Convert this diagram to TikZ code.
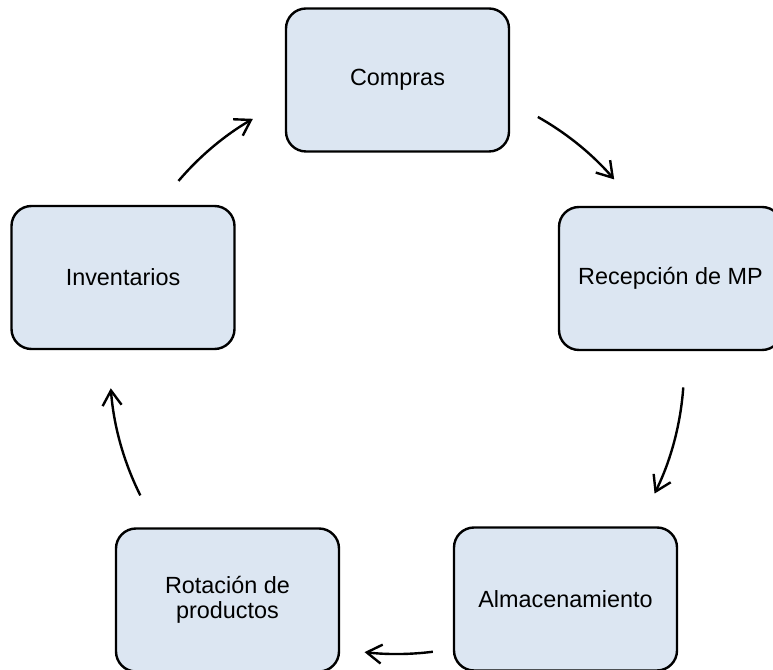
\documentclass[tikz,border=0pt]{standalone}
\usepackage{fontspec}
\setmainfont{Liberation Sans}
\usetikzlibrary{calc,arrows.meta}
\definecolor{stagefill}{HTML}{DCE6F2}
% Curved arrow on the cycle circle between two stages;
% #3 and #4 are the fractions of the angular gap where it starts and ends.
\newcommand\cyclink[4]{%
  \draw[cyc] let \p1=($(#1)-(hub)$), \p2=($(#2)-(hub)$),
      \n1={atan2(\y1,\x1)}, \n2={atan2(\y2,\x2)},
      \n3={(\n2)-(\n1)-360*((\n2)>(\n1))},
      \n4={(\n1)+(#3)*(\n3)}, \n5={(\n1)+(#4)*(\n3)}
    in ($(hub)+(\n4:287pt)$) arc[start angle=\n4, end angle=\n5, radius=287pt];}
\begin{document}
\begin{tikzpicture}[x=1pt,y=1pt,
  stage/.style={draw=black, fill=stagefill, line width=2.4pt,
    rounded corners=20pt, minimum width=223pt, minimum height=143pt,
    align=center, inner sep=0pt, font=\fontsize{23.4}{25.5}\selectfont},
  cyc/.style={line width=2.4pt, -{Straight Barb[length=15pt,width=19pt]}}]
\useasboundingbox (0,0) rectangle (773,669);
\coordinate (hub) at (397,302);

\node[stage] (compras) at (397.5,589) {Compras};
\node[stage] (recep)   at (670.5,390.5) {Recepción de MP};
\node[stage] (almac)   at (565.5,70) {Almacenamiento};
\node[stage] (rotac)   at (227.5,69) {Rotación de\\productos};
\node[stage] (invent)  at (123,391.5) {Inventarios};

\cyclink{compras}{recep}{0.407}{0.682}
\cyclink{recep}{almac}{0.306}{0.613}
\cyclink{almac}{rotac}{0.40}{0.59}
\cyclink{rotac}{invent}{0.38}{0.69}
\cyclink{invent}{compras}{0.31}{0.58}
\end{tikzpicture}
\end{document}
